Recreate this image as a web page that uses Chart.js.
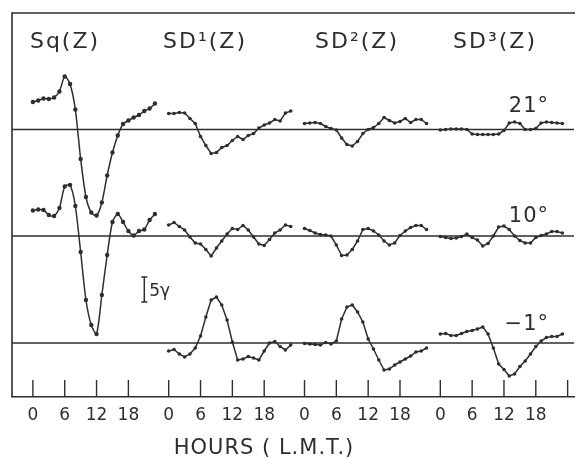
<!DOCTYPE html>
<html>
<head>
<meta charset="utf-8">
<script src="https://cdn.jsdelivr.net/npm/chart.js@4"></script>
<style>
  html, body { margin: 0; padding: 0; background: #fff; }
  #wrap { width: 578px; height: 458px; }
</style>
</head>
<body>
<div id="wrap"><canvas id="chart" width="578" height="458"></canvas></div>
<script>
// hourly values, gamma, relative to each latitude's zero line
const HOURS = [0, 1, 2, 3, 4, 5, 6, 7, 8, 9, 10, 11, 12, 13, 14, 15, 16, 17, 18, 19, 20, 21, 22, 23];

const SQ_21 = [5.5, 5.8, 6.2, 6.1, 6.4, 7.6, 10.6, 9.1, 4.0, -5.9, -13.5, -16.6, -17.2, -14.6, -9.2, -4.6, -1.2, 1.1, 1.8, 2.4, 2.9, 3.7, 4.2, 5.2];
const SQ_10 = [5.1, 5.3, 5.2, 4.2, 4.0, 5.6, 9.9, 10.2, 6.0, -3.2, -12.8, -17.8, -19.6, -11.8, -3.8, 2.8, 4.4, 2.8, 1.0, 0.1, 1.0, 1.3, 3.2, 4.4];
const SQ_M1 = [null, 2.6, 4.0, 4.8, 5.3, 5.5, 6.0, 7.0, 6.2, 4.2, 2.4, 1.0, -1.4, -3.6, -6.4, -8.6, -10.0, -7.0, -4.4, -1.8, 0.4, 1.0, 1.5, 1.6];

const SD1_21 = [3.2, 3.2, 3.4, 3.3, 2.2, 1.2, -1.4, -3.2, -4.8, -4.6, -3.6, -3.2, -2.2, -1.4, -2.0, -1.2, -0.8, 0.3, 0.9, 1.3, 2.0, 1.7, 3.3, 3.7];
const SD1_10 = [2.2, 2.7, 1.9, 1.2, -0.2, -1.4, -1.6, -2.7, -4.0, -2.4, -1.0, 0.4, 1.5, 1.3, 2.1, 1.2, -0.2, -1.6, -1.9, -0.7, 0.6, 1.2, 2.2, 1.9];
const SD1_M1 = [-1.6, -1.3, -2.2, -2.8, -2.2, -1.0, 1.4, 5.2, 8.6, 9.2, 7.6, 4.6, 0.2, -3.4, -3.2, -2.7, -3.0, -3.4, -1.6, 0.0, 0.3, -0.7, -1.4, -0.4];

const SD2_21 = [1.2, 1.3, 1.4, 1.2, 0.6, 0.2, -0.1, -1.7, -3.0, -3.3, -2.4, -0.8, 0.0, 0.4, 1.2, 2.4, 1.8, 1.3, 1.6, 2.2, 1.4, 2.0, 2.0, 1.2];
const SD2_10 = [1.5, 1.1, 0.6, 0.3, 0.2, 0.0, -1.8, -3.9, -3.8, -2.7, -1.0, 1.3, 1.5, 1.0, 0.2, -1.0, -1.8, -1.4, 0.1, 1.0, 1.7, 2.1, 2.1, 1.3];
const SD2_M1 = [-0.1, -0.2, -0.3, -0.4, 0.1, -0.2, 0.4, 4.8, 7.2, 7.6, 6.2, 4.2, 0.8, -1.2, -3.4, -5.4, -5.2, -4.4, -3.8, -3.2, -2.6, -1.8, -1.6, -1.0];

const SD3_21 = [-0.1, 0.0, 0.1, 0.1, 0.1, 0.0, -0.9, -1.0, -1.0, -1.0, -1.0, -0.9, -0.2, 1.3, 1.5, 1.2, 0.0, 0.0, 0.2, 1.3, 1.5, 1.4, 1.3, 1.2];
const SD3_10 = [-0.1, -0.3, -0.5, -0.4, -0.1, 0.4, -0.3, -0.8, -2.0, -1.5, 0.0, 1.8, 2.0, 1.3, 0.0, -0.9, -1.4, -1.4, -0.3, 0.1, 0.4, 0.9, 0.9, 0.6];
const SD3_M1 = [1.8, 1.9, 1.5, 1.5, 1.9, 2.3, 2.5, 2.8, 3.2, 1.8, -1.0, -4.2, -5.3, -6.6, -6.2, -4.7, -3.6, -2.2, -0.7, 0.4, 1.1, 1.3, 1.3, 1.8];

const PANEL_TITLES = ["Sq(Z)", "SD¹(Z)", "SD²(Z)", "SD³(Z)"];
const LATITUDES = ["21°", "10°", "−1°"];
const TICK_HOURS = [0, 6, 12, 18];
const SCALE_BAR = 5; // gamma
const X_TITLE = "HOURS ( L.M.T.)";

// layout
const INK = "#2e2e2e";
const PANEL_GAP = 25.6;           // hours between panel origins
const X_MIN = -3.94, X_MAX = 102;
const Y_MIN = 0, Y_MAX = 76.8;
const ROW_BASE = [53.5, 32.2, 10.8];

const panels = [
  [SQ_21, SQ_10, SQ_M1],
  [SD1_21, SD1_10, SD1_M1],
  [SD2_21, SD2_10, SD2_M1],
  [SD3_21, SD3_10, SD3_M1],
];

const datasets = [];

ROW_BASE.forEach((b) => {
  datasets.push({
    data: [{ x: X_MIN, y: b }, { x: X_MAX, y: b }],
    borderColor: INK,
    borderWidth: 1.5,
    pointRadius: 0,
  });
});

panels.forEach((rows, p) => {
  rows.forEach((vals, r) => {
    datasets.push({
      data: vals.map((v, i) => (v === null ? null : { x: p * PANEL_GAP + HOURS[i], y: ROW_BASE[r] + v })),
      borderColor: INK,
      backgroundColor: INK,
      borderWidth: 1.5,
      pointRadius: p === 0 ? 2.2 : 1.8,
      pointBorderWidth: 0,
      tension: p === 0 ? 0.25 : 0,
    });
  });
});

const tickValues = [];
const tickText = [];
for (let p = 0; p < 4; p++) {
  for (const h of TICK_HOURS) {
    tickValues.push(p * PANEL_GAP + h);
    tickText.push(String(h));
  }
}
tickValues.push(3 * PANEL_GAP + 24);
tickText.push("");

const decor = {
  id: "decor",
  afterDraw(chart) {
    const { ctx, chartArea: a, scales: { x, y } } = chart;
    ctx.save();
    ctx.strokeStyle = INK;
    ctx.fillStyle = INK;
    ctx.lineWidth = 1.6;

    // frame: left and top
    ctx.beginPath();
    ctx.moveTo(a.left, a.bottom);
    ctx.lineTo(a.left, a.top);
    ctx.lineTo(a.right + 1, a.top);
    ctx.stroke();

    // inward tick marks
    ctx.lineWidth = 1.4;
    tickValues.forEach((v) => {
      const px = x.getPixelForValue(v);
      ctx.beginPath();
      ctx.moveTo(px, a.bottom);
      ctx.lineTo(px, a.bottom - 17);
      ctx.stroke();
    });

    // panel titles
    ctx.font = '22px "DejaVu Sans"';
    ctx.textAlign = "center";
    ctx.textBaseline = "alphabetic";
    ctx.letterSpacing = "2px";
    [65, 205, 357, 495].forEach((cx, i) => ctx.fillText(PANEL_TITLES[i], cx, 48));

    // latitude labels
    ctx.font = '21px "DejaVu Sans"';
    ctx.textAlign = "right";
    ctx.letterSpacing = "1px";
    [112, 222, 330].forEach((by, i) => ctx.fillText(LATITUDES[i], 549, by));

    // 5 gamma scale bar
    const bx = x.getPixelForValue(21);
    const y0 = y.getPixelForValue(19);
    const y1 = y.getPixelForValue(19 + SCALE_BAR);
    ctx.lineWidth = 1.5;
    ctx.beginPath();
    ctx.moveTo(bx, y0); ctx.lineTo(bx, y1);
    ctx.moveTo(bx - 3, y0); ctx.lineTo(bx + 3, y0);
    ctx.moveTo(bx - 3, y1); ctx.lineTo(bx + 3, y1);
    ctx.stroke();
    ctx.font = '17px "DejaVu Sans"';
    ctx.textAlign = "left";
    ctx.letterSpacing = "0px";
    ctx.fillText(SCALE_BAR + "γ", bx + 5, (y0 + y1) / 2 + 6);

    // axis title
    ctx.font = '21px "DejaVu Sans"';
    ctx.textAlign = "center";
    ctx.letterSpacing = "1px";
    ctx.fillText(X_TITLE, 264, 454);
    ctx.restore();
  },
};

new Chart(document.getElementById("chart"), {
  type: "line",
  data: { datasets },
  options: {
    responsive: false,
    animation: false,
    layout: { padding: { left: 12, right: 1, top: 13, bottom: 0 } },
    plugins: { legend: { display: false }, tooltip: { enabled: false } },
    scales: {
      x: {
        type: "linear",
        min: X_MIN,
        max: X_MAX,
        afterBuildTicks: (s) => { s.ticks = tickValues.map((v) => ({ value: v })); },
        afterFit: (s) => { s.height = 61; },
        grid: { display: false, drawTicks: false },
        border: { display: true, color: INK, width: 1.6 },
        ticks: {
          autoSkip: false,
          maxRotation: 0,
          padding: 8,
          color: INK,
          font: { family: "DejaVu Sans", size: 17 },
          callback: (v, i) => tickText[i],
        },
      },
      y: { display: false, min: Y_MIN, max: Y_MAX },
    },
  },
  plugins: [decor],
});
</script>
</body>
</html>
